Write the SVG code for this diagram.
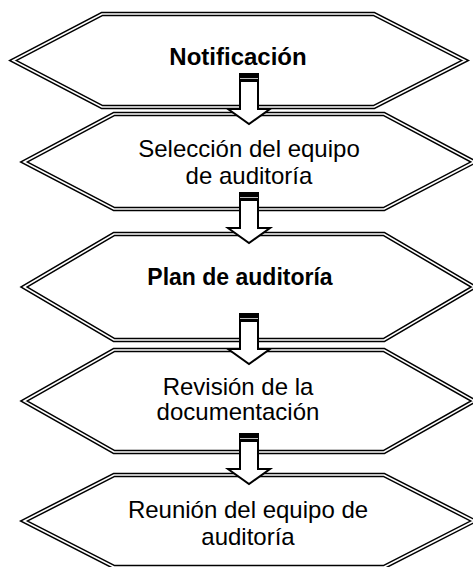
<svg xmlns="http://www.w3.org/2000/svg" width="473" height="567" viewBox="0 0 473 567">
<style>
.o{fill:#fff;stroke:#000;stroke-width:4.6;stroke-linejoin:miter;stroke-miterlimit:10}
.i{fill:none;stroke:#fff;stroke-width:1.6;stroke-linejoin:miter;stroke-miterlimit:10}
.t{font-family:"Liberation Sans",Arial,sans-serif;font-size:24px;fill:#000;text-anchor:middle}
.b{font-weight:bold}
.ar{fill:#fff;stroke:#000;stroke-width:2;stroke-linejoin:miter}
.cap{fill:#000}
.cl{stroke:#bbb;stroke-width:1}
</style>
<defs>
<g id="arrow">
<path class="ar" d="M-9,0 H9 V35 H21 L0,50 L-21,35 H-9 Z"/>
<rect class="cap" x="-10" y="-1" width="20" height="9"/>
<line class="cl" x1="-9" y1="4.5" x2="9" y2="4.5"/>
</g>
</defs>
<g id="node1">
<path class="o" d="M13,60.5 L102,14 L374,14 L465,60.5 L374,107 L102,107 Z"/>
<path class="i" d="M13,60.5 L102,14 L374,14 L465,60.5 L374,107 L102,107 Z"/>
<text class="t b" x="238" y="65">Notificación</text>
</g>
<g id="node2">
<path class="o" d="M24,162 L114,114 L384,114 L474,162 L384,209 L114,209 Z"/>
<path class="i" d="M24,162 L114,114 L384,114 L474,162 L384,209 L114,209 Z"/>
<text class="t" x="249" y="157">Selección del equipo</text>
<text class="t" x="249" y="184">de auditoría</text>
</g>
<g id="node3">
<path class="o" d="M24,287 L114,234 L384,234 L474,287 L384,340 L114,340 Z"/>
<path class="i" d="M24,287 L114,234 L384,234 L474,287 L384,340 L114,340 Z"/>
<text class="t b" x="240" y="285" style="font-size:23px">Plan de auditoría</text>
</g>
<g id="node4">
<path class="o" d="M24,401 L114,350 L384,350 L474,401 L384,452 L114,452 Z"/>
<path class="i" d="M24,401 L114,350 L384,350 L474,401 L384,452 L114,452 Z"/>
<text class="t" x="238" y="395">Revisión de la</text>
<text class="t" x="238" y="420">documentación</text>
</g>
<g id="node5">
<path class="o" d="M24,521 L114,475 L384,475 L474,521 L384,567 L114,567 Z"/>
<path class="i" d="M24,521 L114,475 L384,475 L474,521 L384,567 L114,567 Z"/>
<text class="t" x="248" y="518">Reunión del equipo de</text>
<text class="t" x="248" y="545">auditoría</text>
</g>
<g id="connectors">
<use href="#arrow" x="249" y="74"/>
<use href="#arrow" x="249" y="193"/>
<use href="#arrow" x="249" y="314"/>
<use href="#arrow" x="249" y="434"/>
</g>
</svg>
